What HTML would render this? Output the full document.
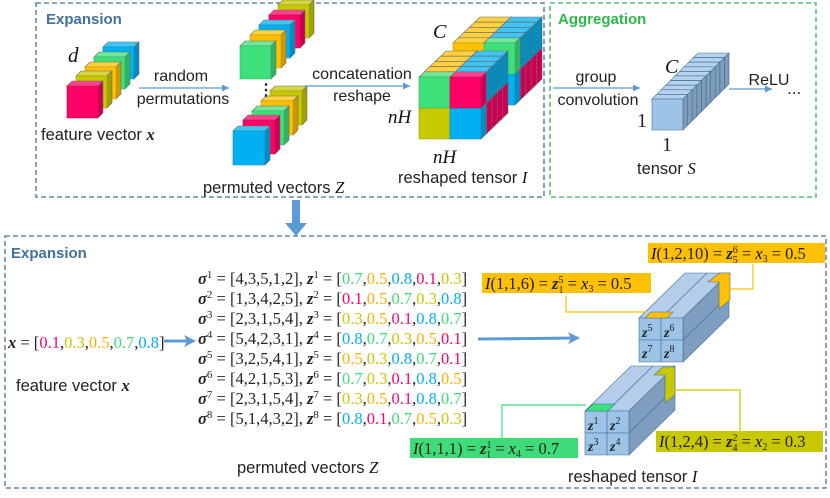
<!DOCTYPE html>
<html><head><meta charset="utf-8"><style>
html,body{margin:0;padding:0;background:#fff;}
svg{display:block;}
.t{font-family:"Liberation Sans",sans-serif;fill:#222;}
.m{font-family:"Liberation Serif",serif;font-style:italic;fill:#111;}
.b{font-family:"Liberation Serif",serif;font-weight:bold;font-style:italic;}
.eq{font-family:"Liberation Serif",serif;fill:#222;font-size:16.5px;}
</style></head><body>
<svg id="s" width="830" height="498" viewBox="0 0 830 498" xmlns="http://www.w3.org/2000/svg">
<defs>
<marker id="ar" markerWidth="8" markerHeight="8" refX="6" refY="3" orient="auto"><path d="M0,0 L6,3 L0,6 z" fill="#5B9BD5"/></marker>
<marker id="ar2" markerUnits="userSpaceOnUse" markerWidth="14" markerHeight="14" refX="10" refY="6" orient="auto"><path d="M0,0 L12,6 L0,12 L3,6 z" fill="#5B9BD5"/></marker>
</defs>
<rect x="36" y="3" width="508" height="194" fill="none" stroke="#41719C" stroke-width="1.3" stroke-dasharray="5,3"/>
<rect x="550" y="3" width="266" height="194" fill="none" stroke="#2DB84D" stroke-width="1.3" stroke-dasharray="5,3"/>
<rect x="5" y="236" width="821" height="252" fill="none" stroke="#41719C" stroke-width="1.3" stroke-dasharray="5,3"/>
<text x="46" y="24" class="t" style="font-weight:bold;fill:#41719C;font-size:15px">Expansion</text>
<text x="558" y="24" class="t" style="font-weight:bold;fill:#2DB84D;font-size:15px">Aggregation</text>
<text x="11" y="258" class="t" style="font-weight:bold;fill:#41719C;font-size:15px">Expansion</text>
<rect x="292" y="200" width="8" height="24" fill="#5B9BD5"/>
<path d="M285,223 L307,223 L296,236 z" fill="#5B9BD5"/>
<g id="shapes"></g>
<line x1="139" y1="88" x2="229" y2="88" stroke="#5B9BD5" stroke-width="1.2" marker-end="url(#ar)"/>
<line x1="305" y1="86" x2="410" y2="86" stroke="#5B9BD5" stroke-width="1.2" marker-end="url(#ar)"/>
<line x1="553" y1="88" x2="640" y2="88" stroke="#5B9BD5" stroke-width="1.2" marker-end="url(#ar)"/>
<line x1="729" y1="89" x2="772" y2="89" stroke="#5B9BD5" stroke-width="1.2" marker-end="url(#ar)"/>
<text x="181" y="81" class="t" font-size="16" text-anchor="middle">random</text>
<text x="183" y="104" class="t" font-size="16" text-anchor="middle">permutations</text>
<text x="362" y="79" class="t" font-size="16" text-anchor="middle">concatenation</text>
<text x="362" y="101" class="t" font-size="16" text-anchor="middle">reshape</text>
<text x="596" y="82" class="t" font-size="16" text-anchor="middle">group</text>
<text x="598" y="105" class="t" font-size="16" text-anchor="middle">convolution</text>
<text x="769" y="85" class="t" font-size="16" text-anchor="middle">ReLU</text>
<text x="787" y="94" class="t" font-size="17">...</text>
<text x="68" y="62" class="m" font-size="21">d</text>
<text x="41" y="140" class="t" font-size="16.5">feature vector <tspan class="b">x</tspan></text>
<text x="203" y="193" class="t" font-size="16.5">permuted vectors <tspan class="m">Z</tspan></text>
<text x="258" y="95" font-size="16" font-weight="bold" class="t">⋮</text>
<text x="433" y="38" class="m" font-size="20">C</text>
<text x="388" y="123" class="m" font-size="19">nH</text>
<text x="433" y="163" class="m" font-size="19">nH</text>
<text x="398" y="183" class="t" font-size="16.5">reshaped tensor <tspan class="m">I</tspan></text>
<text x="665" y="73" class="m" font-size="20">C</text>
<text x="637" y="127" class="eq" style="font-size:20px">1</text>
<text x="662" y="151" class="eq" style="font-size:20px">1</text>
<text x="637" y="174" class="t" font-size="16.5">tensor <tspan class="m">S</tspan></text>
<text x="8" y="348" class="eq"><tspan class="b">x</tspan> = [<tspan fill="#FF0066">0.1</tspan>,<tspan fill="#C8C800">0.3</tspan>,<tspan fill="#FFB000">0.5</tspan>,<tspan fill="#3EDC78">0.7</tspan>,<tspan fill="#00B0F0">0.8</tspan>]</text>
<line x1="164" y1="341" x2="194" y2="341" stroke="#5B9BD5" stroke-width="3" marker-end="url(#ar2)"/>
<text x="16" y="391" class="t" font-size="16.5">feature vector <tspan class="b">x</tspan></text>
<g class="eq">
<text x="198" y="284"><tspan class="b">σ</tspan><tspan dy="-6" font-size="11">1</tspan><tspan dy="6"> = [4,3,5,1,2], </tspan><tspan class="b">z</tspan><tspan dy="-6" font-size="11">1</tspan><tspan dy="6"> = [</tspan><tspan fill="#3EDC78">0.7</tspan>,<tspan fill="#FFB000">0.5</tspan>,<tspan fill="#00B0F0">0.8</tspan>,<tspan fill="#FF0066">0.1</tspan>,<tspan fill="#C8C800">0.3</tspan>]</text>
<text x="198" y="304"><tspan class="b">σ</tspan><tspan dy="-6" font-size="11">2</tspan><tspan dy="6"> = [1,3,4,2,5], </tspan><tspan class="b">z</tspan><tspan dy="-6" font-size="11">2</tspan><tspan dy="6"> = [</tspan><tspan fill="#FF0066">0.1</tspan>,<tspan fill="#FFB000">0.5</tspan>,<tspan fill="#3EDC78">0.7</tspan>,<tspan fill="#C8C800">0.3</tspan>,<tspan fill="#00B0F0">0.8</tspan>]</text>
<text x="198" y="324"><tspan class="b">σ</tspan><tspan dy="-6" font-size="11">3</tspan><tspan dy="6"> = [2,3,1,5,4], </tspan><tspan class="b">z</tspan><tspan dy="-6" font-size="11">3</tspan><tspan dy="6"> = [</tspan><tspan fill="#C8C800">0.3</tspan>,<tspan fill="#FFB000">0.5</tspan>,<tspan fill="#FF0066">0.1</tspan>,<tspan fill="#00B0F0">0.8</tspan>,<tspan fill="#3EDC78">0.7</tspan>]</text>
<text x="198" y="344"><tspan class="b">σ</tspan><tspan dy="-6" font-size="11">4</tspan><tspan dy="6"> = [5,4,2,3,1], </tspan><tspan class="b">z</tspan><tspan dy="-6" font-size="11">4</tspan><tspan dy="6"> = [</tspan><tspan fill="#00B0F0">0.8</tspan>,<tspan fill="#3EDC78">0.7</tspan>,<tspan fill="#C8C800">0.3</tspan>,<tspan fill="#FFB000">0.5</tspan>,<tspan fill="#FF0066">0.1</tspan>]</text>
<text x="198" y="364"><tspan class="b">σ</tspan><tspan dy="-6" font-size="11">5</tspan><tspan dy="6"> = [3,2,5,4,1], </tspan><tspan class="b">z</tspan><tspan dy="-6" font-size="11">5</tspan><tspan dy="6"> = [</tspan><tspan fill="#FFB000">0.5</tspan>,<tspan fill="#C8C800">0.3</tspan>,<tspan fill="#00B0F0">0.8</tspan>,<tspan fill="#3EDC78">0.7</tspan>,<tspan fill="#FF0066">0.1</tspan>]</text>
<text x="198" y="384"><tspan class="b">σ</tspan><tspan dy="-6" font-size="11">6</tspan><tspan dy="6"> = [4,2,1,5,3], </tspan><tspan class="b">z</tspan><tspan dy="-6" font-size="11">6</tspan><tspan dy="6"> = [</tspan><tspan fill="#3EDC78">0.7</tspan>,<tspan fill="#C8C800">0.3</tspan>,<tspan fill="#FF0066">0.1</tspan>,<tspan fill="#00B0F0">0.8</tspan>,<tspan fill="#FFB000">0.5</tspan>]</text>
<text x="198" y="404"><tspan class="b">σ</tspan><tspan dy="-6" font-size="11">7</tspan><tspan dy="6"> = [2,3,1,5,4], </tspan><tspan class="b">z</tspan><tspan dy="-6" font-size="11">7</tspan><tspan dy="6"> = [</tspan><tspan fill="#C8C800">0.3</tspan>,<tspan fill="#FFB000">0.5</tspan>,<tspan fill="#FF0066">0.1</tspan>,<tspan fill="#00B0F0">0.8</tspan>,<tspan fill="#3EDC78">0.7</tspan>]</text>
<text x="198" y="424"><tspan class="b">σ</tspan><tspan dy="-6" font-size="11">8</tspan><tspan dy="6"> = [5,1,4,3,2], </tspan><tspan class="b">z</tspan><tspan dy="-6" font-size="11">8</tspan><tspan dy="6"> = [</tspan><tspan fill="#00B0F0">0.8</tspan>,<tspan fill="#FF0066">0.1</tspan>,<tspan fill="#3EDC78">0.7</tspan>,<tspan fill="#FFB000">0.5</tspan>,<tspan fill="#C8C800">0.3</tspan>]</text>
</g>
<text x="237" y="473" class="t" font-size="16.5">permuted vectors <tspan class="m">Z</tspan></text>
<line x1="478" y1="339" x2="578" y2="338" stroke="#5B9BD5" stroke-width="3" marker-end="url(#ar2)"/>
<text x="568" y="482" class="t" font-size="16.5">reshaped tensor <tspan class="m">I</tspan></text>
<polyline points="566,296 566,312 646,312" fill="none" stroke="#FFC000" stroke-width="1.2"/>
<polyline points="728,289 753,289 753,264" fill="none" stroke="#FFC000" stroke-width="1.2"/>
<polyline points="586,405 502,405 502,438" fill="none" stroke="#3EDC78" stroke-width="1.2"/>
<polyline points="668,390 740,390 740,431" fill="none" stroke="#C8C800" stroke-width="1.2"/>
<rect x="648" y="243" width="177" height="20" fill="#FFC000"/>
<text x="651" y="259" class="eq"><tspan class="m">I</tspan>(1,2,10) = <tspan class="b">z</tspan><tspan font-size="10" dy="-6">6</tspan><tspan font-size="10" dx="-5" dy="10">5</tspan><tspan dy="-4"> = </tspan><tspan class="m">x</tspan><tspan font-size="10" dy="3">3</tspan><tspan dy="-3"> = 0.5</tspan></text>
<rect x="482" y="273" width="169" height="20" fill="#FFC000"/>
<text x="485" y="289" class="eq"><tspan class="m">I</tspan>(1,1,6) = <tspan class="b">z</tspan><tspan font-size="10" dy="-6">5</tspan><tspan font-size="10" dx="-5" dy="10">1</tspan><tspan dy="-4"> = </tspan><tspan class="m">x</tspan><tspan font-size="10" dy="3">3</tspan><tspan dy="-3"> = 0.5</tspan></text>
<rect x="410" y="438" width="168" height="20" fill="#3EDC78"/>
<text x="413" y="454" class="eq"><tspan class="m">I</tspan>(1,1,1) = <tspan class="b">z</tspan><tspan font-size="10" dy="-6">1</tspan><tspan font-size="10" dx="-5" dy="10">1</tspan><tspan dy="-4"> = </tspan><tspan class="m">x</tspan><tspan font-size="10" dy="3">4</tspan><tspan dy="-3"> = 0.7</tspan></text>
<rect x="656" y="431" width="167" height="21" fill="#C8C800"/>
<text x="659" y="447" class="eq"><tspan class="m">I</tspan>(1,2,4) = <tspan class="b">z</tspan><tspan font-size="10" dy="-6">2</tspan><tspan font-size="10" dx="-5" dy="10">4</tspan><tspan dy="-4"> = </tspan><tspan class="m">x</tspan><tspan font-size="10" dy="3">2</tspan><tspan dy="-3"> = 0.3</tspan></text>
<g id="zl" class="eq" style="font-size:14px">
<text x="642" y="337"><tspan class="b">z</tspan><tspan font-size="10" dy="-6">5</tspan></text>
<text x="664" y="337"><tspan class="b">z</tspan><tspan font-size="10" dy="-6">6</tspan></text>
<text x="642" y="358"><tspan class="b">z</tspan><tspan font-size="10" dy="-6">7</tspan></text>
<text x="664" y="358"><tspan class="b">z</tspan><tspan font-size="10" dy="-6">8</tspan></text>
<text x="588" y="430"><tspan class="b">z</tspan><tspan font-size="10" dy="-6">1</tspan></text>
<text x="610" y="430"><tspan class="b">z</tspan><tspan font-size="10" dy="-6">2</tspan></text>
<text x="588" y="451"><tspan class="b">z</tspan><tspan font-size="10" dy="-6">3</tspan></text>
<text x="610" y="451"><tspan class="b">z</tspan><tspan font-size="10" dy="-6">4</tspan></text>
</g>
</svg>
<script>
(function(){
var NS="http://www.w3.org/2000/svg",g=document.getElementById("shapes");
function sh(c,f){var h=c.replace('#','');var r=parseInt(h.substr(0,2),16),gg=parseInt(h.substr(2,2),16),b=parseInt(h.substr(4,2),16);
function m(v){return Math.max(0,Math.min(255,Math.round(f>1?v+(255-v)*(f-1):v*f)));}return 'rgb('+m(r)+','+m(gg)+','+m(b)+')';}
function p(pts,fill,st){var e=document.createElementNS(NS,'polygon');e.setAttribute('points',pts.map(function(q){return q.join(',')}).join(' '));e.setAttribute('fill',fill);e.setAttribute('stroke',st||sh(fill.charAt(0)=='#'?fill:'#888888',0.8));e.setAttribute('stroke-width','0.6');g.appendChild(e);}
function cube(x,y,w,h,dx,dy,c,st){
p([[x,y],[x+dx,y-dy],[x+w+dx,y-dy],[x+w,y]],sh(c,1.25),st);
p([[x+w,y],[x+w+dx,y-dy],[x+w+dx,y+h-dy],[x+w,y+h]],sh(c,0.8),st);
p([[x,y],[x+w,y],[x+w,y+h],[x,y+h]],c,st);}
var P='#FF0066',G='#3EE07A',Y='#C8C800',O='#FFC000',B='#00B0F0';
[[103,47,B],[94,57,G],[85,67,O],[76,76,Y],[67,86,P]].forEach(function(a){cube(a[0],a[1],31,32,5,5,a[2]);});
[[278,5,Y],[269,15,P],[259,25,B],[250,35,O],[240,46,G]].forEach(function(a){cube(a[0],a[1],31,33,5,5,a[2]);});
[[270,91,Y],[261,101,O],[252,111,G],[243,120,P],[233,131,B]].forEach(function(a){cube(a[0],a[1],32,34,5,5,a[2]);});
var cols=[P,G,Y,O,B],k=0;
function rc(){k=(k*7+3)%5;return cols[k];}
[[34,-34],[0,0]].forEach(function(o){
 for(var i=4;i>=0;i--){var bx=419+o[0]+i*5.4,by=77+o[1]-i*5.2;
  var last=(i==0);
  var cs=last?(o[0]==0?[[G,P],[Y,B]]:[[O,G],[B,B]]):[[rc(),rc()],[rc(),rc()]];
  cube(bx,by+31,31,31,5.4,5.2,cs[1][0]);cube(bx+31,by+31,31,31,5.4,5.2,cs[1][1]);
  cube(bx,by,31,31,5.4,5.2,cs[0][0]);cube(bx+31,by,31,31,5.4,5.2,cs[0][1]);
 }});
var L='#9DC3E6',st='#41719C';
for(var i=9;i>=0;i--){cube(652+i*4.6,99-i*4.6,31,31,4.6,4.6,L,st);}
function blk(x,y){var dx=46,dy=45,w=44,h=44;
 p([[x,y],[x+dx,y-dy],[x+w+dx,y-dy],[x+w,y]],'#B4CDE8',st);
 p([[x+w,y],[x+w+dx,y-dy],[x+w+dx,y+h-dy],[x+w,y+h]],'#7F9EBF',st);
 var l1=document.createElementNS(NS,'line');l1.setAttribute('x1',x+22);l1.setAttribute('y1',y);l1.setAttribute('x2',x+22+dx);l1.setAttribute('y2',y-dy);l1.setAttribute('stroke',st);l1.setAttribute('stroke-width','0.7');g.appendChild(l1);
 var l2=document.createElementNS(NS,'line');l2.setAttribute('x1',x+w);l2.setAttribute('y1',y+22);l2.setAttribute('x2',x+w+dx);l2.setAttribute('y2',y+22-dy);l2.setAttribute('stroke',st);l2.setAttribute('stroke-width','0.7');g.appendChild(l2);
 for(var r=0;r<2;r++)for(var c=0;c<2;c++)p([[x+c*22,y+r*22],[x+c*22+22,y+r*22],[x+c*22+22,y+r*22+22],[x+c*22,y+r*22+22]],'#9DC3E6',st);}
blk(639,318);blk(585,411);
p([[645,318],[651,312],[673,312],[667,318]],'#FFC000',st);
p([[708,282],[720,273],[730,273],[730,300],[719,309],[719,282]],'#FFC000',st);
p([[586,411],[593,404],[615,404],[608,411]],'#3EE07A',st);
p([[654,375],[663,367],[675,367],[675,395],[665,403],[665,375]],'#C8C800',st);
})();
</script>
</body></html>
